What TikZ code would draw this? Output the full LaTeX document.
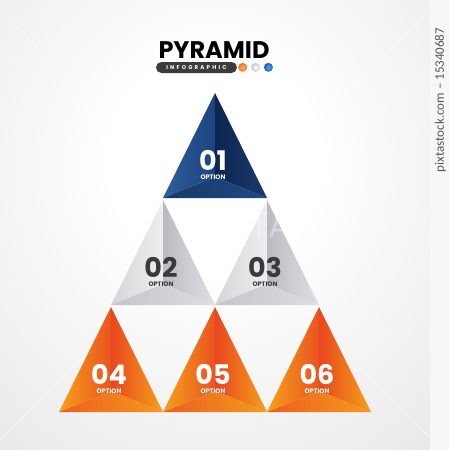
\documentclass[tikz,border=0pt]{standalone}
\usepackage{fontspec}
\usetikzlibrary{positioning}
\newfontfamily\titlefont{Poppins}
\newfontfamily\spacedfont{Poppins}[LetterSpace=40]
\newfontfamily\stripfont{Carlito}
\definecolor{bggray}{HTML}{CFCFD3}
\definecolor{pilldark}{HTML}{3C3C3E}
\definecolor{numdark}{HTML}{3A3A3C}
\definecolor{stockgray}{HTML}{555555}
\pgfdeclareradialshading{bgshade}{\pgfpoint{0bp}{8bp}}{color(0bp)=(white); color(12bp)=(white); color(72bp)=(bggray); color(100bp)=(bggray)}
\tikzset{
  numtext/.style={font=\titlefont\bfseries\fontsize{27}{27}\selectfont, inner sep=0pt},
  opttext/.style={font=\titlefont\bfseries\fontsize{6.5}{6.5}\selectfont, inner sep=0pt},
  ray/.style={white, line width=0.4pt, opacity=0.7},
  dot/.style={circle, minimum size=9pt, inner sep=0pt},
  % faces of the blue pyramid
  leftblue/.style={left color={rgb,255:red,47;green,93;blue,155}, right color={rgb,255:red,28;green,68;blue,128}},
  rightblue/.style={left color={rgb,255:red,13;green,37;blue,80}, right color={rgb,255:red,26;green,58;blue,110}},
  baseblue/.style={left color={rgb,255:red,23;green,56;blue,102}, right color={rgb,255:red,31;green,74;blue,134}},
  txtblue/.style={text=white},
  % faces of the gray pyramids
  leftgray/.style={left color={rgb,255:red,214;green,214;blue,218}, right color={rgb,255:red,238;green,238;blue,240}},
  rightgray/.style={left color={rgb,255:red,186;green,186;blue,192}, right color={rgb,255:red,224;green,224;blue,228}},
  basegray/.style={left color={rgb,255:red,196;green,196;blue,201}, right color={rgb,255:red,222;green,222;blue,226}},
  txtgray/.style={text=numdark},
  % faces of the orange pyramids
  leftorange/.style={left color={rgb,255:red,246;green,160;blue,26}, right color={rgb,255:red,233;green,84;blue,31}},
  rightorange/.style={left color={rgb,255:red,232;green,70;blue,31}, right color={rgb,255:red,245;green,160;blue,26}},
  baseorange/.style={left color={rgb,255:red,236;green,94;blue,32}, right color={rgb,255:red,245;green,154;blue,26}},
  txtorange/.style={text=white},
}
\begin{document}
\begin{tikzpicture}[x=1pt, y=-1pt]
  \useasboundingbox (0,0) rectangle (449,450);
  % background
  \shade[shading=bgshade] (0,0) rectangle (430,450);
  \draw[ray] (0,10) -- (430,438);
  \draw[ray] (430,10) -- (0,440);
  \fill[white!97!black] (430,0) rectangle (449,450);
  \node[rotate=90, font=\stripfont\fontsize{13}{13}\selectfont, text=stockgray, inner sep=0pt] (stock) at (440.5,100) {pixtastock.com – 15340687};

  % title
  \node[font=\titlefont\bfseries\fontsize{24}{24}\selectfont, inner sep=0pt] (title) at (214,50.5) {PYRAMID};
  \node[fill=pilldark, rounded corners=5.5pt, minimum width=81pt, minimum height=11pt, inner sep=0pt,
        font=\spacedfont\bfseries\fontsize{5.5}{5.5}\selectfont, text=white] (sub) at (196.5,67.5) {INFOGRAPHIC};
  \node[dot, inner color={rgb,255:red,250;green,175;blue,100}, outer color={rgb,255:red,236;green,118;blue,30}] (dotorange) at (242.7,67.3) {};
  \node[dot, inner color=white, outer color={rgb,255:red,200;green,200;blue,205}] (dotgray) at (255.6,67.3) {};
  \node[dot, inner color={rgb,255:red,90;green,160;blue,235}, outer color={rgb,255:red,20;green,95;blue,190}] (dotblue) at (268.4,67.3) {};

  % pyramids
  \foreach \ax/\ay/\c/\n in {215/93/blue/01, 163/200/gray/02, 267/200/gray/03,
                             111/307/orange/04, 215/307/orange/05, 319/307/orange/06}{
    \coordinate (a\n) at (\ax,\ay);
    \coordinate (l\n) at (\ax-52,\ay+105);
    \coordinate (r\n) at (\ax+52,\ay+105);
    \coordinate (m\n) at (\ax,\ay+84);
    \shade[left\c] (a\n) -- (m\n) -- (l\n) -- cycle;
    \shade[right\c] (a\n) -- (r\n) -- (m\n) -- cycle;
    \shade[base\c] (l\n) -- (m\n) -- (r\n) -- cycle;
    \node[numtext, txt\c] (num\n) at (\ax-2,\ay+67) {\n};
    \node[opttext, txt\c, below=4pt of num\n] (opt\n) {OPTION};
  }

  % watermark
  \node[font=\titlefont\fontsize{36}{36}\selectfont, text=white, opacity=0.35, inner sep=0pt] (mark) at (245,225) {PIXTA};
\end{tikzpicture}
\end{document}
